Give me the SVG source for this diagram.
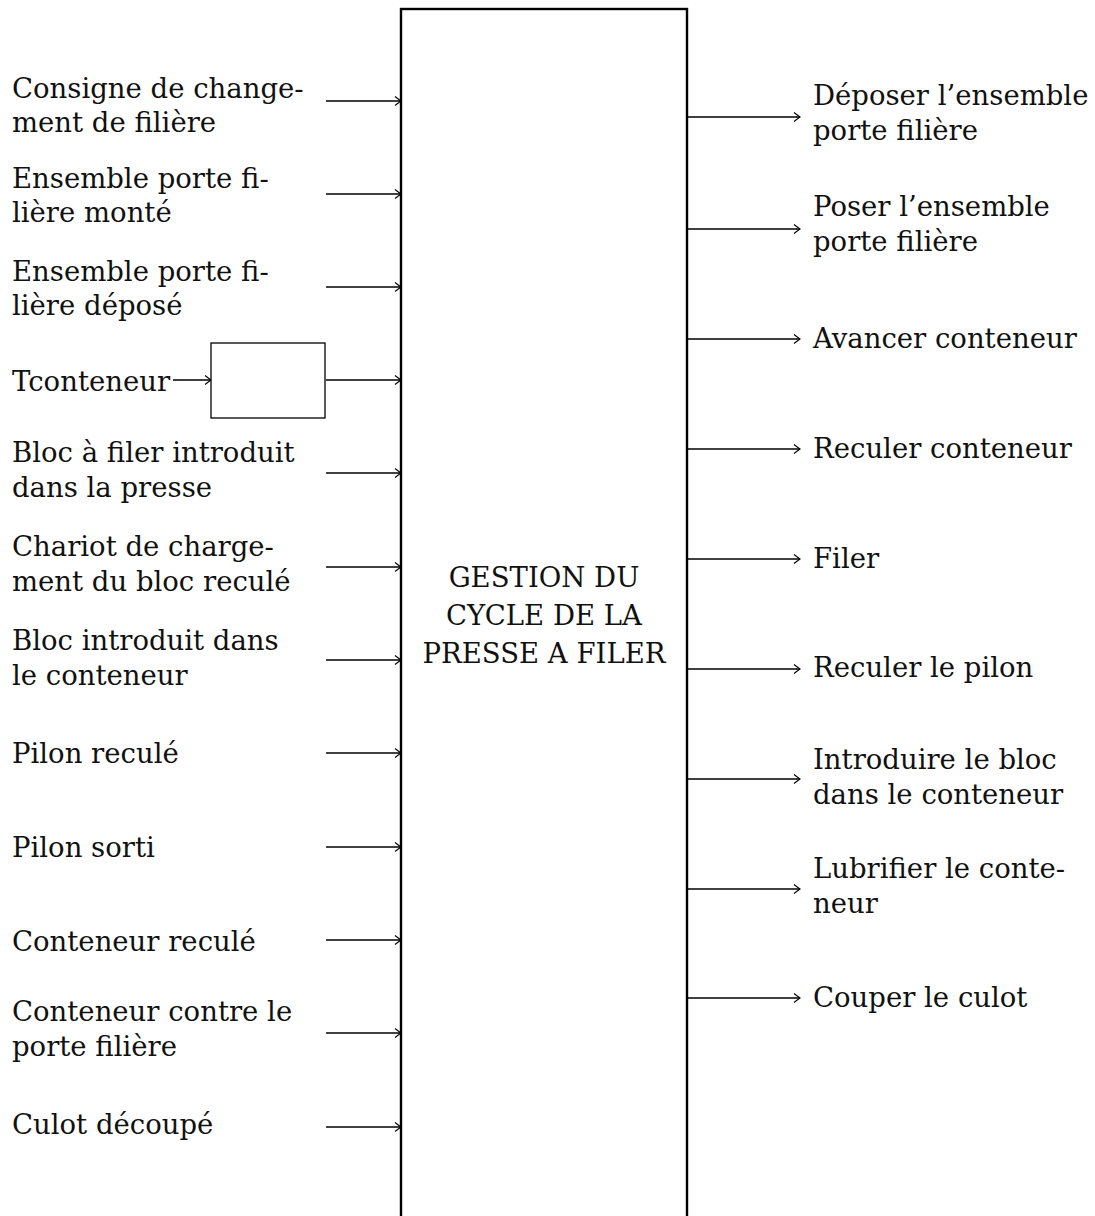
<svg xmlns="http://www.w3.org/2000/svg" width="1095" height="1216" viewBox="0 0 1095 1216">
<style>
  text { font-family: "DejaVu Serif", "Liberation Serif", serif; font-size: 27.5px; fill: #111; }
  .c { text-anchor: middle; }
  .ln { stroke: #000; stroke-width: 1.3; fill: none; marker-end: url(#arr); }
  .box { fill: #fff; stroke: #000; }
</style>
<defs>
  <marker id="arr" markerUnits="userSpaceOnUse" markerWidth="14" markerHeight="14" viewBox="-9 -7 11 14" refX="0" refY="0" orient="auto">
    <path d="M -6 -4.5 Q -1.8 -1.2 0 0 Q -1.8 1.2 -6 4.5" fill="none" stroke="#000" stroke-width="1.1"/>
  </marker>
</defs>
<rect width="1095" height="1216" fill="#fff"/>
<g id="connectors">
  <line class="ln" x1="326" y1="101" x2="401" y2="101"/>
  <line class="ln" x1="326" y1="194" x2="401" y2="194"/>
  <line class="ln" x1="326" y1="287" x2="401" y2="287"/>
  <line class="ln" x1="173" y1="380" x2="211" y2="380"/>
  <line class="ln" x1="326" y1="380" x2="401" y2="380"/>
  <line class="ln" x1="326" y1="473" x2="401" y2="473"/>
  <line class="ln" x1="326" y1="567" x2="401" y2="567"/>
  <line class="ln" x1="326" y1="660" x2="401" y2="660"/>
  <line class="ln" x1="326" y1="753" x2="401" y2="753"/>
  <line class="ln" x1="326" y1="847" x2="401" y2="847"/>
  <line class="ln" x1="326" y1="940" x2="401" y2="940"/>
  <line class="ln" x1="326" y1="1033" x2="401" y2="1033"/>
  <line class="ln" x1="326" y1="1127" x2="401" y2="1127"/>
  <line class="ln" x1="688" y1="117" x2="800" y2="117"/>
  <line class="ln" x1="688" y1="229" x2="800" y2="229"/>
  <line class="ln" x1="688" y1="339" x2="800" y2="339"/>
  <line class="ln" x1="688" y1="449" x2="800" y2="449"/>
  <line class="ln" x1="688" y1="559" x2="800" y2="559"/>
  <line class="ln" x1="688" y1="669" x2="800" y2="669"/>
  <line class="ln" x1="688" y1="779" x2="800" y2="779"/>
  <line class="ln" x1="688" y1="889" x2="800" y2="889"/>
  <line class="ln" x1="688" y1="998" x2="800" y2="998"/>
</g>
<g id="main">
  <rect class="box" x="401" y="9" width="286" height="1220" stroke-width="2.4"/>
  <text class="c" x="544" y="587">GESTION DU</text>
  <text class="c" x="544" y="625">CYCLE DE LA</text>
  <text class="c" x="544" y="663">PRESSE A FILER</text>
</g>
<g id="tbox">
  <rect class="box" x="211" y="343" width="114" height="75" stroke-width="1.3"/>
</g>
<g id="inputs">
  <g id="in1"><text x="12" y="98">Consigne de change-</text><text x="12" y="132">ment de filière</text></g>
  <g id="in2"><text x="12" y="188">Ensemble porte fi-</text><text x="12" y="222">lière monté</text></g>
  <g id="in3"><text x="12" y="281">Ensemble porte fi-</text><text x="12" y="315">lière déposé</text></g>
  <g id="in4"><text x="12" y="391">Tconteneur</text></g>
  <g id="in5"><text x="12" y="462">Bloc à filer introduit</text><text x="12" y="497">dans la presse</text></g>
  <g id="in6"><text x="12" y="556">Chariot de charge-</text><text x="12" y="591">ment du bloc reculé</text></g>
  <g id="in7"><text x="12" y="650">Bloc introduit dans</text><text x="12" y="685">le conteneur</text></g>
  <g id="in8"><text x="12" y="763">Pilon reculé</text></g>
  <g id="in9"><text x="12" y="857">Pilon sorti</text></g>
  <g id="in10"><text x="12" y="951">Conteneur reculé</text></g>
  <g id="in11"><text x="12" y="1021">Conteneur contre le</text><text x="12" y="1056">porte filière</text></g>
  <g id="in12"><text x="12" y="1134">Culot découpé</text></g>
</g>
<g id="outputs">
  <g id="out1"><text x="813" y="105">Déposer l’ensemble</text><text x="813" y="140">porte filière</text></g>
  <g id="out2"><text x="813" y="216">Poser l’ensemble</text><text x="813" y="251">porte filière</text></g>
  <g id="out3"><text x="813" y="348">Avancer conteneur</text></g>
  <g id="out4"><text x="813" y="458">Reculer conteneur</text></g>
  <g id="out5"><text x="813" y="568">Filer</text></g>
  <g id="out6"><text x="813" y="677">Reculer le pilon</text></g>
  <g id="out7"><text x="813" y="769">Introduire le bloc</text><text x="813" y="804">dans le conteneur</text></g>
  <g id="out8"><text x="813" y="878">Lubrifier le conte-</text><text x="813" y="913">neur</text></g>
  <g id="out9"><text x="813" y="1007">Couper le culot</text></g>
</g>
</svg>
